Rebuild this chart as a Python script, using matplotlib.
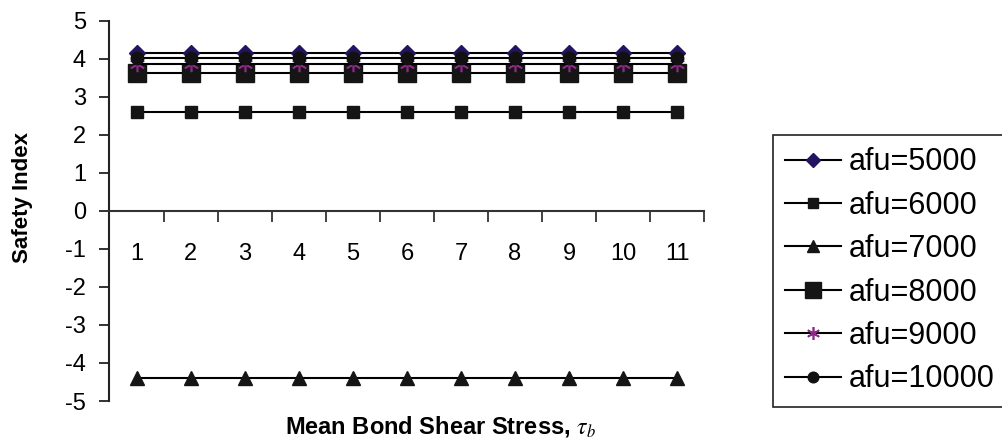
import numpy as np
import matplotlib
matplotlib.use("Agg")
import matplotlib.pyplot as plt

plt.rcParams['font.family'] = ['Liberation Sans', 'DejaVu Sans']
plt.rcParams['mathtext.fontset'] = 'stix'
plt.rcParams['axes.unicode_minus'] = False

# mean bond shear stress cases
stress_case = [1, 2, 3, 4, 5, 6, 7, 8, 9, 10, 11]

# safety index for each ultimate strength
afu_5000 = [4.14] * 11
afu_6000 = [2.59] * 11
afu_7000 = [-4.39] * 11
afu_8000 = [3.63] * 11
afu_9000 = [3.87] * 11
afu_10000 = [4.02] * 11

labels = ['afu=5000', 'afu=6000', 'afu=7000', 'afu=8000', 'afu=9000', 'afu=10000']

W, H = 1003, 442
fig = plt.figure(figsize=(W / 100, H / 100), dpi=100)
ax = fig.add_axes([109.5 / W, 1 - 401 / H, 594.8 / W, 380.3 / H])

lw = 1.5
ax.plot(stress_case, afu_5000, color='black', lw=lw, marker='D', ms=8.5,
        mfc='#24135e', mec='#24135e', label=labels[0])
ax.plot(stress_case, afu_6000, color='black', lw=lw, marker='s', ms=8,
        mfc='#151515', mec='#151515', label=labels[1])
ax.plot(stress_case, afu_7000, color='black', lw=lw, marker='^', ms=10,
        mfc='#151515', mec='#151515', label=labels[2])
ax.plot(stress_case, afu_8000, color='black', lw=lw, marker='s', ms=13.5,
        mfc='#151515', mec='#151515', label=labels[3])
ax.plot(stress_case, afu_9000, color='black', lw=lw, marker=(6, 2, 0), ms=11,
        mfc='#8a2a86', mec='#8a2a86', mew=1.2, label=labels[4])
ax.plot(stress_case, afu_10000, color='black', lw=lw, marker='o', ms=9,
        mfc='#111111', mec='#111111', label=labels[5])

ax.set_xlim(0.5, 11.5)
ax.set_ylim(-5, 5)

# axis styling
for s in ['top', 'right']:
    ax.spines[s].set_visible(False)
ax.spines['bottom'].set_position(('data', 0))
ax.spines['left'].set_linewidth(1.5)
ax.spines['bottom'].set_linewidth(1.5)
ax.spines['left'].set_color('#222222')
ax.spines['bottom'].set_color('#333333')

ax.set_yticks(np.arange(-5, 6, 1))
ax.tick_params(axis='y', direction='out', length=7, width=1.3, pad=10,
               labelsize=17, color='#222222')

ax.set_xticks(stress_case)
ax.set_xticks(np.arange(0.5, 12, 1), minor=True)
ax.tick_params(axis='x', which='major', length=0, pad=23, labelsize=17)
ax.tick_params(axis='x', which='minor', direction='out', length=8, width=1.3,
               color='#333333')

ax.set_ylabel('Safety Index', fontsize=16, fontweight='bold')
ax.yaxis.set_label_coords(-0.146, 0.536)
ax.yaxis.label.set_va('center')

ax.set_xlabel(r'Mean Bond Shear Stress, $\tau_b$', fontsize=17,
              fontweight='bold')
ax.xaxis.set_label_coords(0.556, -0.068)
ax.xaxis.label.set_va('center')

leg = fig.legend(loc='upper left', bbox_to_anchor=(773 / W, 1 - 135 / H),
                 borderaxespad=0, fontsize=22, frameon=True, fancybox=False,
                 edgecolor='#222222', framealpha=1, labelspacing=0.44,
                 handlelength=1.83, handletextpad=0.26, borderpad=0.4,
                 markerscale=0.85)
leg.get_frame().set_linewidth(1.2)

fig.savefig('out.png', dpi=100)
